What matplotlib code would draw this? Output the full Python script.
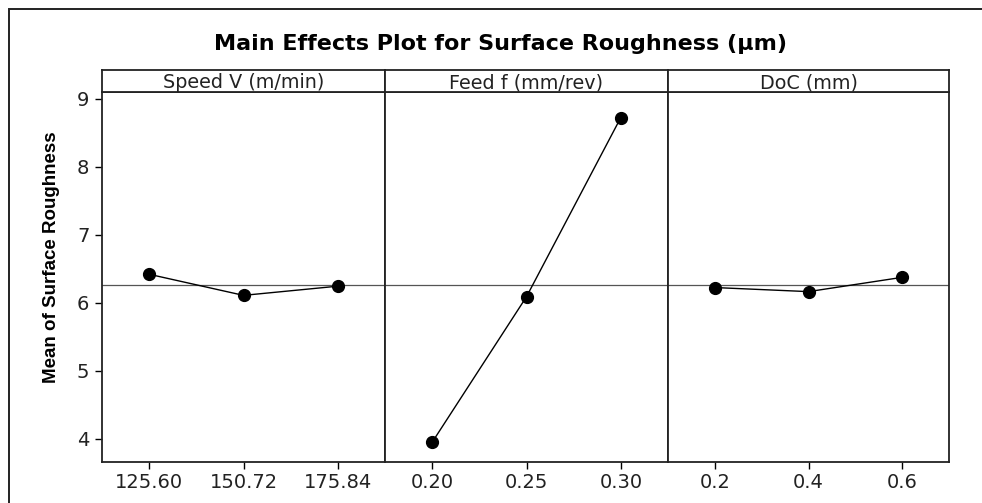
import matplotlib.pyplot as plt
from matplotlib.patches import Rectangle

# -----------------------------
# data
# -----------------------------
factors = ["Speed V (m/min)", "Feed f (mm/rev)", "DoC (mm)"]
speed_levels = ["125.60", "150.72", "175.84"]
feed_levels = ["0.20", "0.25", "0.30"]
doc_levels = ["0.2", "0.4", "0.6"]
speed_means = [6.42, 6.11, 6.245]
feed_means = [3.95, 6.09, 8.725]
doc_means = [6.225, 6.165, 6.375]
grand_mean = 6.256
y_ticks = [4, 5, 6, 7, 8, 9]

levels = [speed_levels, feed_levels, doc_levels]
means = [speed_means, feed_means, doc_means]

W, H = 982, 503
fig = plt.figure(figsize=(W / 100, H / 100), dpi=100)
fig.patch.set_facecolor("white")


def fx(px):
    return px / W


def fy(py):
    return 1 - py / H


# outer frame (cropped on the right / bottom in the source)
fig.patches.append(Rectangle((fx(9), fy(1000)), fx(1200), fy(9) - fy(1000),
                             transform=fig.transFigure, fill=False,
                             edgecolor="#222222", linewidth=1.4))

fig.text(fx(500), fy(44), "Main Effects Plot for Surface Roughness (\u03bcm)",
         ha="center", va="center", fontsize=16, fontweight="bold",
         family="DejaVu Sans")

edges = [102, 385, 668, 949]
top, strip_top, bottom = 92, 70, 462

for i in range(3):
    x0, x1 = edges[i], edges[i + 1]
    ax = fig.add_axes([fx(x0), fy(bottom), fx(x1) - fx(x0), fy(top) - fy(bottom)])
    pos = [1, 2, 3]
    ax.axhline(grand_mean, color="#555555", linewidth=0.9, zorder=1)
    ax.plot(pos, means[i], color="black", linewidth=1.0, marker="o",
            markersize=8.5, zorder=3)
    ax.set_xlim(0.5, 3.5)
    ax.set_ylim(3.66, 9.10)
    ax.set_xticks(pos)
    ax.set_xticklabels(levels[i], fontsize=14, color="#222222")
    ax.tick_params(axis="x", length=5, width=1, pad=3)
    if i == 0:
        ax.set_yticks(y_ticks)
        ax.set_yticklabels([str(t) for t in y_ticks], fontsize=14, color="#222222")
        ax.tick_params(axis="y", length=5, width=1, pad=4)
    else:
        ax.set_yticks([])
    for s in ax.spines.values():
        s.set_linewidth(1.3)
        s.set_color("#222222")

    # strip header
    sx = fig.add_axes([fx(x0), fy(top), fx(x1) - fx(x0), fy(strip_top) - fy(top)])
    sx.set_xticks([])
    sx.set_yticks([])
    for s in sx.spines.values():
        s.set_linewidth(1.3)
        s.set_color("#222222")
    sx.text(0.5, 0.42, factors[i], ha="center", va="center",
            fontsize=13.8, color="#222222", transform=sx.transAxes)

fig.text(fx(52), fy(257), "Mean of Surface Roughness", rotation=90,
         ha="center", va="center", fontsize=13.5, fontweight="bold",
         family=["Liberation Sans", "DejaVu Sans"])

fig.savefig("out.png", dpi=100)
